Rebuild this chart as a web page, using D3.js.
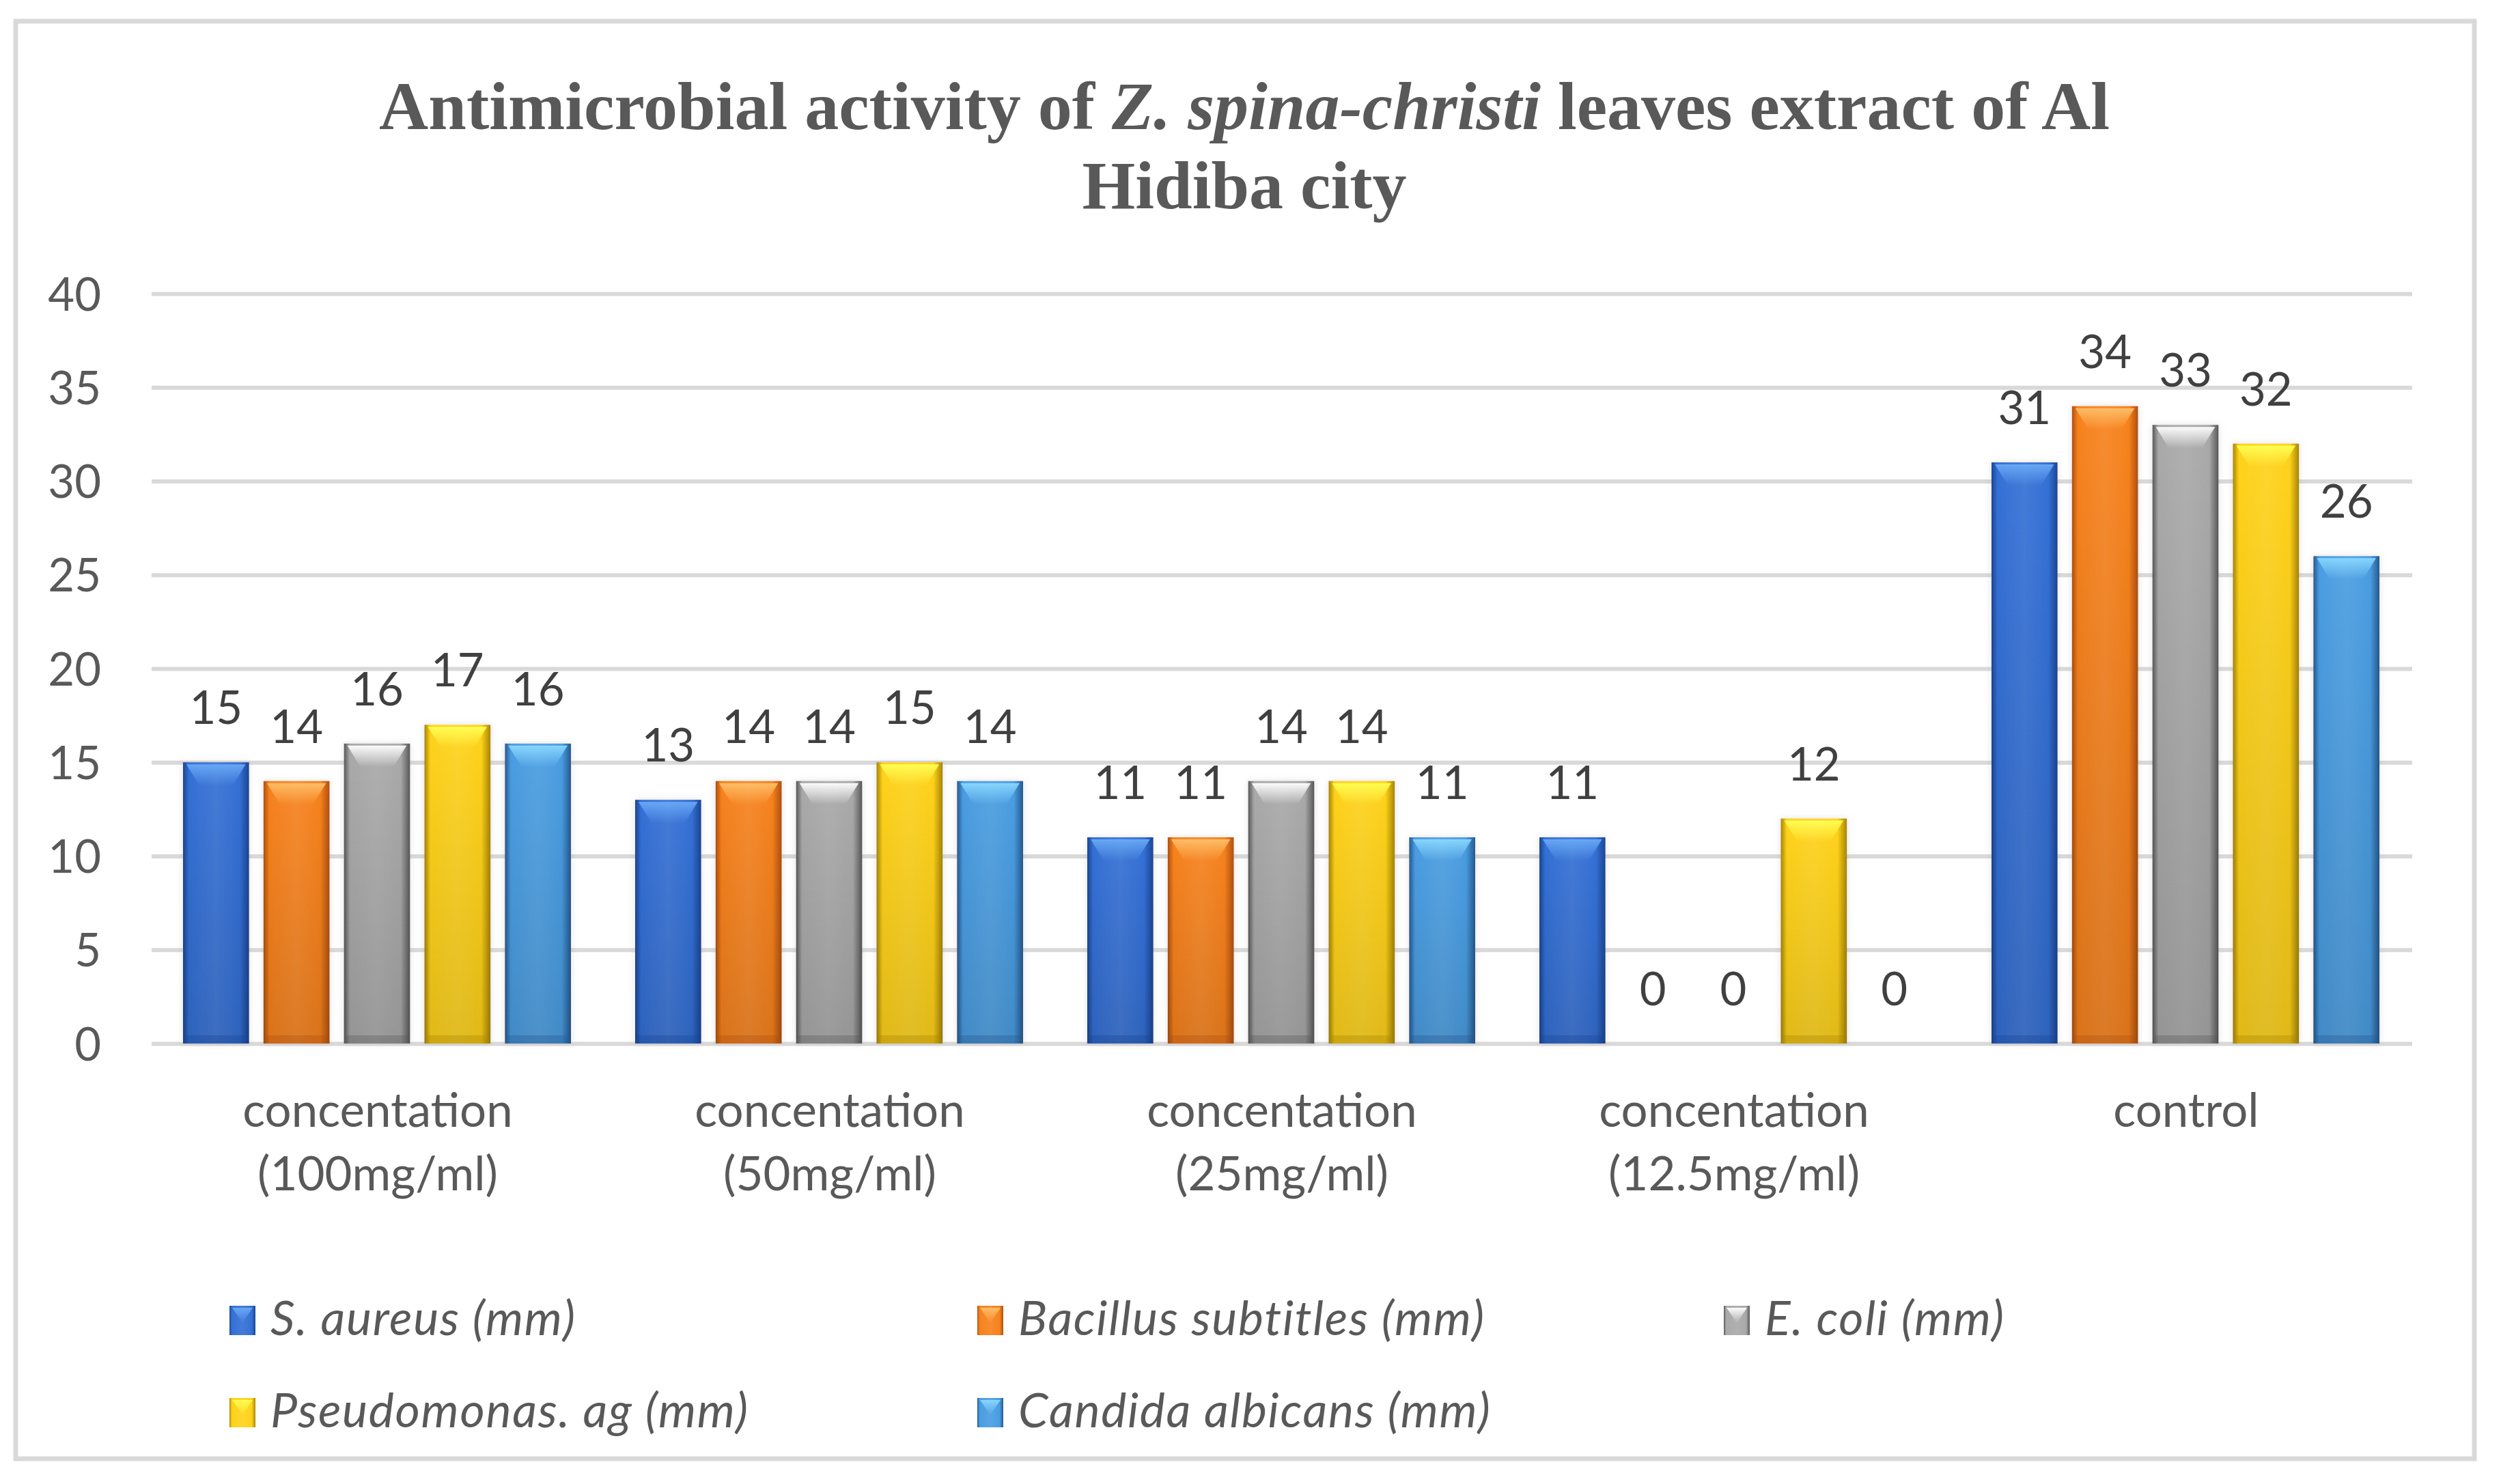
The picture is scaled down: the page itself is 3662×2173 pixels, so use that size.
<!DOCTYPE html>
<html>
<head>
<meta charset="utf-8">
<script src="https://cdnjs.cloudflare.com/ajax/libs/d3/7.8.5/d3.min.js"></script>
<style>
  body { margin: 0; background: #fff; }
  svg { display: block; }
</style>
</head>
<body>
<div id="chart"></div>
<script>
// chart values
let categories = [
    ["concentation", "(100mg/ml)"],
    ["concentation", "(50mg/ml)"],
    ["concentation", "(25mg/ml)"],
    ["concentation", "(12.5mg/ml)"],
    ["control"]
];
let seriesNames = ["S. aureus (mm)", "Bacillus subtitles (mm)", "E. coli (mm)", "Pseudomonas. ag (mm)", "Candida albicans (mm)"];
let sAureus = [15, 13, 11, 11, 31];
let bacillus = [14, 14, 11, 0, 34];
let eColi = [16, 14, 14, 0, 33];
let pseudomonas = [17, 15, 14, 12, 32];
let candida = [16, 14, 11, 0, 26];
let yTicks = [0, 5, 10, 15, 20, 25, 30, 35, 40];

let allSeries = [sAureus, bacillus, eColi, pseudomonas, candida];

// colours: [edge, mid, top highlight]
let palette = [
    ["#1a4694", "#3470d6", "#6aaaf6"],
    ["#b0500e", "#f7821d", "#ffc06a"],
    ["#585858", "#a9a9a9", "#ffffff"],
    ["#a88600", "#ffd21a", "#ffff55"],
    ["#245a90", "#4a9de2", "#8ad8ff"]
];

let W = 3662, H = 2173;
let plotLeft = 222, plotRight = 3532, plotTop = 430, plotBottom = 1528;

let svg = d3.select("#chart")
    .append("svg")
    .attr("width", W)
    .attr("height", H);

let defs = svg.append("defs");

palette.forEach((p, i) => {
    let g = defs.append("linearGradient")
        .attr("id", "bar" + i)
        .attr("x1", "0").attr("x2", "1").attr("y1", "0").attr("y2", "0");
    g.append("stop").attr("offset", "0%").attr("stop-color", p[0]);
    g.append("stop").attr("offset", "9%").attr("stop-color", p[1]);
    g.append("stop").attr("offset", "50%").attr("stop-color", d3.interpolateRgb(p[1], "#fff")(0.08));
    g.append("stop").attr("offset", "86%").attr("stop-color", p[1]);
    g.append("stop").attr("offset", "100%").attr("stop-color", p[0]);

    let t = defs.append("linearGradient")
        .attr("id", "top" + i)
        .attr("x1", "0").attr("x2", "0").attr("y1", "0").attr("y2", "1");
    t.append("stop").attr("offset", "0%").attr("stop-color", p[2]).attr("stop-opacity", 0.95);
    t.append("stop").attr("offset", "100%").attr("stop-color", p[2]).attr("stop-opacity", 0);
});

let shade = defs.append("linearGradient")
    .attr("id", "shade")
    .attr("x1", "0").attr("x2", "0").attr("y1", "0").attr("y2", "1");
shade.append("stop").attr("offset", "0%").attr("stop-color", "#000").attr("stop-opacity", 0);
shade.append("stop").attr("offset", "100%").attr("stop-color", "#000").attr("stop-opacity", 0.12);

let glow = defs.append("filter")
    .attr("id", "glow")
    .attr("x", "-20%").attr("y", "-20%").attr("width", "140%").attr("height", "140%");
glow.append("feDropShadow")
    .attr("dx", 0).attr("dy", 0)
    .attr("stdDeviation", 5)
    .attr("flood-color", "#b0a0a0")
    .attr("flood-opacity", 0.35);

// outer frame
svg.append("rect")
    .attr("x", 23)
    .attr("y", 31)
    .attr("width", 3600)
    .attr("height", 2105)
    .style("fill", "#fff")
    .style("stroke", "#d9d9d9")
    .style("stroke-width", 7);

// title
let title = svg.append("text")
    .attr("x", 1822)
    .attr("y", 189)
    .attr("text-anchor", "middle")
    .style("font", "bold 100px 'Liberation Serif', 'Times New Roman', serif")
    .style("fill", "#595959");
title.append("tspan").text("Antimicrobial activity of ");
title.append("tspan").style("font-style", "italic").text("Z. spina-christi");
title.append("tspan").text(" leaves extract of Al");

svg.append("text")
    .attr("x", 1822)
    .attr("y", 305)
    .attr("text-anchor", "middle")
    .style("font", "bold 100px 'Liberation Serif', 'Times New Roman', serif")
    .style("fill", "#595959")
    .text("Hidiba city");

let xScale = d3.scaleBand()
    .domain(d3.range(categories.length))
    .range([plotLeft, plotRight]);

let xInner = d3.scaleBand()
    .domain(d3.range(seriesNames.length))
    .range([46, xScale.bandwidth() - 48])
    .paddingInner(0.18);

let yScale = d3.scaleLinear()
    .domain([0, 40])
    .range([plotBottom, plotTop]);

// gridlines
let yAxis = d3.axisLeft(yScale)
    .tickValues(yTicks)
    .tickSize(-(plotRight - plotLeft))
    .tickPadding(74);

let axisG = svg.append("g")
    .attr("transform", "translate(" + plotLeft + ",0)")
    .call(yAxis);

axisG.select(".domain").remove();
axisG.selectAll(".tick line")
    .style("stroke", "#d9d9d9")
    .style("stroke-width", 6);
axisG.selectAll(".tick text")
    .style("font", "67px Lato, sans-serif")
    .style("fill", "#595959")
    .attr("dy", "0.36em");

// bars
let groups = svg.selectAll(".group")
    .data(categories)
    .enter()
    .append("g")
    .attr("class", "group")
    .attr("transform", (d, i) => "translate(" + xScale(i) + ",0)");

groups.each(function(cat, ci) {
    let g = d3.select(this);
    allSeries.forEach((vals, si) => {
        let v = vals[ci];
        let x = xInner(si);
        let w = xInner.bandwidth();
        let y = yScale(v);
        let h = yScale(0) - y;

        if (h > 0) {
            g.append("rect")
                .attr("x", x)
                .attr("y", y)
                .attr("width", w)
                .attr("height", h)
                .style("fill", "url(#bar" + si + ")")
                .attr("filter", "url(#glow)");

            g.append("rect")
                .attr("x", x)
                .attr("y", y)
                .attr("width", w)
                .attr("height", h)
                .style("fill", "url(#shade)");

            // top bevel highlight
            let bh = Math.min(34, h);
            g.append("path")
                .attr("d", "M" + (x + 5) + "," + (y + 3)
                    + "L" + (x + w - 5) + "," + (y + 3)
                    + "L" + (x + w - 24) + "," + (y + bh)
                    + "L" + (x + 24) + "," + (y + bh) + "Z")
                .style("fill", "url(#top" + si + ")");

            // bottom dark band
            g.append("rect")
                .attr("x", x + 3)
                .attr("y", yScale(0) - 12)
                .attr("width", w - 6)
                .attr("height", 12)
                .style("fill", palette[si][0])
                .style("opacity", 0.35);
        }

        g.append("text")
            .attr("x", x + w / 2)
            .attr("y", y - 56)
            .attr("text-anchor", "middle")
            .style("font", "67px Lato, sans-serif")
            .style("fill", "#404040")
            .text(v);
    });

    // category label
    let label = g.append("text")
        .attr("x", xScale.bandwidth() / 2)
        .attr("y", 1650)
        .attr("text-anchor", "middle")
        .style("font", "69px Lato, sans-serif")
        .style("fill", "#595959");
    cat.forEach((line, li) => {
        label.append("tspan")
            .attr("x", xScale.bandwidth() / 2)
            .attr("y", 1650 + li * 93)
            .text(line);
    });
});

// legend
let legendX = [336, 1431, 2524];
let legendY = [1955, 2090];

let legend = svg.selectAll(".legend")
    .data(seriesNames)
    .enter()
    .append("g")
    .attr("class", "legend")
    .attr("transform", (d, i) => "translate(" + legendX[i % 3] + "," + legendY[Math.floor(i / 3)] + ")");

legend.append("rect")
    .attr("x", 0)
    .attr("y", -43)
    .attr("width", 38)
    .attr("height", 43)
    .style("fill", (d, i) => "url(#bar" + i + ")");

legend.append("path")
    .attr("d", "M4,-40L34,-40L19,-18Z")
    .style("fill", (d, i) => "url(#top" + i + ")");

legend.append("text")
    .attr("x", 60)
    .attr("y", 0)
    .style("font", "italic 70px Lato, sans-serif")
    .style("letter-spacing", "1.7px")
    .style("fill", "#595959")
    .text(d => d);
</script>
</body>
</html>
